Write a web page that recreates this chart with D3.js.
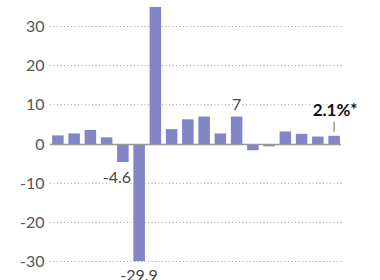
<!DOCTYPE html>
<meta charset="utf-8">
<script src="https://d3js.org/d3.v7.min.js"></script>
<html>
<style>
body { margin: 0; background: #fff; }
svg text { font-family: Lato, "Open Sans", sans-serif; }
</style>
<body>
<svg id="chart" width="380" height="280"></svg>
<script>

// quarterly growth, annualized %
var quarters = ["2019Q1","2019Q2","2019Q3","2019Q4","2020Q1","2020Q2","2020Q3","2020Q4",
                "2021Q1","2021Q2","2021Q3","2021Q4","2022Q1","2022Q2","2022Q3","2022Q4",
                "2023Q1","2023Q2"];
var growth = [2.2, 2.7, 3.6, 1.7, -4.6, -29.9, 35.0, 3.8, 6.3, 7.0, 2.7, 7.0, -1.6, -0.6, 3.2, 2.6, 1.9, 2.1];
var yTicks = [-30, -20, -10, 0, 10, 20, 30];
var labelQuarters = ["2020Q1", "2020Q2", "2021Q4"];
var labelTexts = ["-4.6", "-29.9", "7"];
var lastLabel = "2.1%*";

var svg = d3.select("#chart");

var x = d3.scaleBand()
  .domain(quarters)
  .range([50, 342])
  .paddingInner(0.29)
  .paddingOuter(0.13);

var y = d3.scaleLinear()
  .domain([-30, 30])
  .range([261.5, 26.5]);

// gridlines
svg.append("g")
  .selectAll("line")
  .data(yTicks.filter(function(d) { return d != 0; }))
  .enter().append("line")
    .attr("x1", 50).attr("x2", 342)
    .attr("y1", function(d) { return y(d); })
    .attr("y2", function(d) { return y(d); })
    .attr("stroke", "#999")
    .attr("stroke-width", 1)
    .attr("stroke-dasharray", "1,2.5");

// tick labels
svg.append("g")
  .selectAll("text")
  .data(yTicks)
  .enter().append("text")
    .attr("x", 44.5)
    .attr("y", function(d) { return y(d); })
    .attr("dy", "0.35em")
    .attr("text-anchor", "end")
    .attr("fill", "#555")
    .style("font-size", "16px")
    .text(function(d) { return d; });

// bars
svg.append("g")
  .selectAll("rect")
  .data(growth)
  .enter().append("rect")
    .attr("x", function(d, i) { return x(quarters[i]); })
    .attr("width", x.bandwidth())
    .attr("y", function(d) { return d > 0 ? y(d) : y(0); })
    .attr("height", function(d) { return Math.abs(y(d) - y(0)); })
    .attr("fill", "#8286c6");

// zero line
svg.append("line")
  .attr("x1", 50).attr("x2", 341)
  .attr("y1", y(0) + 0.5).attr("y2", y(0) + 0.5)
  .attr("stroke", "#999")
  .attr("stroke-width", 1.5);

// value labels
labelQuarters.forEach(function(q, k) {
  var i = quarters.indexOf(q);
  var v = growth[i];
  var cx = x(q) + x.bandwidth() / 2;
  var ty = v > 0 ? y(v) - 7 : y(v) + 20;
  if (q == "2020Q1") { cx = cx - 6; ty = y(v) + 21; }
  svg.append("text")
    .attr("x", cx)
    .attr("y", ty)
    .attr("text-anchor", "middle")
    .attr("fill", "#444")
    .attr("stroke", "#fff")
    .attr("stroke-width", 3)
    .attr("paint-order", "stroke")
    .style("font-size", "16px")
    .text(labelTexts[k]);
});

// latest quarter callout
var lastQ = quarters[quarters.length - 1];
var lastV = growth[growth.length - 1];
var lx = x(lastQ) + x.bandwidth() / 2;
svg.append("line")
  .attr("x1", lx).attr("x2", lx)
  .attr("y1", y(lastV) - 4).attr("y2", y(lastV) - 14)
  .attr("stroke", "#666")
  .attr("stroke-width", 1);
svg.append("text")
  .attr("x", lx + 1)
  .attr("y", y(lastV) - 20)
  .attr("text-anchor", "middle")
  .attr("fill", "#111")
  .attr("stroke", "#fff")
  .attr("stroke-width", 3)
  .attr("paint-order", "stroke")
  .style("font-size", "17px")
  .style("font-weight", "bold")
  .text(lastLabel);

</script>
</body>
</html>
